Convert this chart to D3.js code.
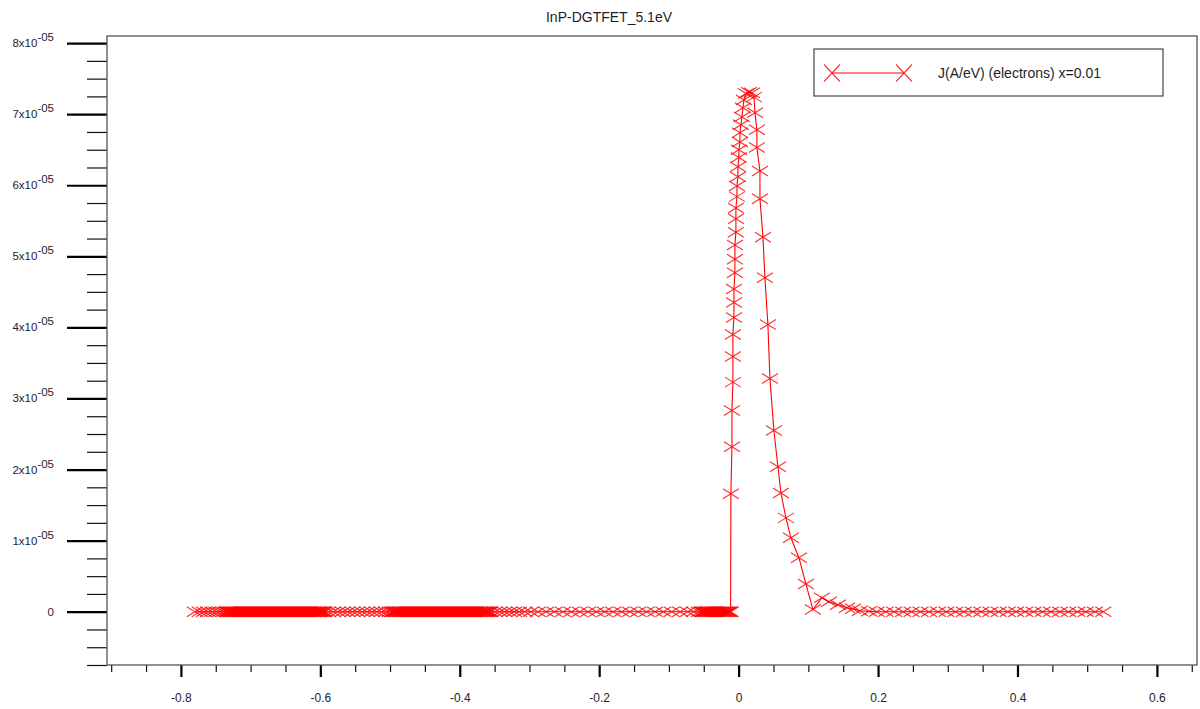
<!DOCTYPE html>
<html>
<head>
<meta charset="utf-8">
<script src="https://cdn.jsdelivr.net/npm/d3@7"></script>
<style>
  html, body { margin: 0; padding: 0; background: #fff; }
  svg { display: block; font-family: "Liberation Sans", Arial, sans-serif; }
</style>
</head>
<body>
<svg id="chart" width="1200" height="709"></svg>
<script>
// ---------------- DATA ----------------
const chartTitle = "InP-DGTFET_5.1eV";
const seriesName = "J(A/eV) (electrons) x=0.01";

// Energies (eV) left of the pulse where J = 0
const energyFlatLeft = [
  -0.780, -0.773, -0.767, -0.761, -0.755, -0.749, -0.744, -0.739,
  -0.7350, -0.7335, -0.7320, -0.7305, -0.7290, -0.7275, -0.7260, -0.7245, -0.7230, -0.7215,
  -0.7200, -0.7185, -0.7170, -0.7155, -0.7140, -0.7125, -0.7110, -0.7095, -0.7080, -0.7065,
  -0.7050, -0.7035, -0.7020, -0.7005, -0.6990, -0.6975, -0.6960, -0.6945, -0.6930, -0.6915,
  -0.6900, -0.6885, -0.6870, -0.6855, -0.6840, -0.6825, -0.6810, -0.6795, -0.6780, -0.6765,
  -0.6750, -0.6735, -0.6720, -0.6705, -0.6690, -0.6675, -0.6660, -0.6645, -0.6630, -0.6615,
  -0.6600, -0.6585, -0.6570, -0.6555, -0.6540, -0.6525, -0.6510, -0.6495, -0.6480, -0.6465,
  -0.6450, -0.6435, -0.6420, -0.6405, -0.6390, -0.6375, -0.6360, -0.6345, -0.6330, -0.6315,
  -0.6300, -0.6285, -0.6270, -0.6255, -0.6240, -0.6225, -0.6210, -0.6195, -0.6180, -0.6165,
  -0.6150, -0.6135, -0.6120, -0.6105, -0.6090, -0.6075, -0.6060, -0.6045, -0.6030, -0.6015,
  -0.6000, -0.5985, -0.5970, -0.5955, -0.5940,
  -0.589, -0.582, -0.575, -0.568, -0.561, -0.554, -0.547, -0.540, -0.533, -0.526,
  -0.519, -0.512, -0.506, -0.501,
  -0.4970, -0.4955, -0.4940, -0.4925, -0.4910, -0.4895, -0.4880, -0.4865, -0.4850, -0.4835,
  -0.4820, -0.4805, -0.4790, -0.4775, -0.4760, -0.4745, -0.4730, -0.4715, -0.4700, -0.4685,
  -0.4670, -0.4655, -0.4640, -0.4625, -0.4610, -0.4595, -0.4580, -0.4565, -0.4550, -0.4535,
  -0.4520, -0.4505, -0.4490, -0.4475, -0.4460, -0.4445, -0.4430, -0.4415, -0.4400, -0.4385,
  -0.4370, -0.4355, -0.4340, -0.4325, -0.4310, -0.4295, -0.4280, -0.4265, -0.4250, -0.4235,
  -0.4220, -0.4205, -0.4190, -0.4175, -0.4160, -0.4145, -0.4130, -0.4115, -0.4100, -0.4085,
  -0.4070, -0.4055, -0.4040, -0.4025, -0.4010, -0.3995, -0.3980, -0.3965, -0.3950, -0.3935,
  -0.3920, -0.3905, -0.3890, -0.3875, -0.3860, -0.3845, -0.3830, -0.3815, -0.3800, -0.3785,
  -0.3770, -0.3755, -0.3740, -0.3725, -0.3710, -0.3695, -0.3680, -0.3665, -0.3650, -0.3635,
  -0.3620, -0.3605, -0.3590, -0.3575, -0.3560,
  -0.350, -0.343, -0.336, -0.329, -0.322, -0.315, -0.307, -0.298, -0.288, -0.276,
  -0.264, -0.252, -0.240, -0.228, -0.216, -0.204, -0.192, -0.180, -0.168, -0.156,
  -0.144, -0.132, -0.120, -0.108, -0.096, -0.084, -0.073, -0.064, -0.057,
  -0.0530, -0.0515, -0.0500, -0.0485, -0.0470, -0.0455, -0.0440, -0.0425, -0.0410, -0.0395,
  -0.0380, -0.0365, -0.0350, -0.0335, -0.0320, -0.0305, -0.0290, -0.0275, -0.0260, -0.0245,
  -0.0230, -0.0215, -0.0200, -0.0185, -0.0170, -0.0155, -0.0140, -0.0125, -0.0115
];

// The pulse: energies (eV) and current density (A/eV)
const energyPulse = [
  -0.0111, -0.0096, -0.0096, -0.0082, -0.0082, -0.0082, -0.0067, -0.0067, -0.0067,
  -0.0053, -0.0053, -0.0053, -0.0039, -0.0039, -0.0039, -0.0024, -0.0024, -0.0010,
  -0.0010, 0.0004, 0.0004, 0.0019, 0.0019, 0.0033, 0.0047, 0.0062, 0.0076, 0.0105,
  0.0148, 0.0190, 0.0220, 0.0235, 0.0262, 0.0262, 0.0306, 0.0306, 0.0349, 0.0377,
  0.0420, 0.0449, 0.0506, 0.0564, 0.0607, 0.0679, 0.0750, 0.0865, 0.0965, 0.1066,
  0.1195, 0.1296, 0.1424, 0.1553, 0.1640, 0.1740, 0.1870
];
const currentPulse = [
  1.66e-5, 2.32e-5, 2.83e-5, 3.23e-5, 3.59e-5, 3.90e-5, 4.14e-5, 4.35e-5, 4.54e-5,
  4.77e-5, 4.96e-5, 5.16e-5, 5.34e-5, 5.53e-5, 5.68e-5, 5.84e-5, 5.99e-5, 6.12e-5,
  6.26e-5, 6.39e-5, 6.50e-5, 6.61e-5, 6.74e-5, 6.85e-5, 6.96e-5, 7.09e-5, 7.20e-5, 7.29e-5,
  7.31e-5, 7.30e-5, 7.24e-5, 7.02e-5, 6.78e-5, 6.53e-5, 6.20e-5, 5.81e-5, 5.27e-5, 4.70e-5,
  4.04e-5, 3.28e-5, 2.55e-5, 2.04e-5, 1.67e-5, 1.32e-5, 1.04e-5, 0.76e-5, 0.39e-5, 0.03e-5,
  0.197e-5, 0.141e-5, 0.098e-5, 0.056e-5, 0.040e-5, 0.014e-5, 0.005e-5
];

// Energies (eV) right of the pulse where J = 0
const energyFlatRight = [
  0.198, 0.211, 0.223, 0.236, 0.248, 0.261, 0.273, 0.286, 0.298, 0.311,
  0.323, 0.336, 0.348, 0.361, 0.373, 0.386, 0.398, 0.411, 0.423, 0.436,
  0.448, 0.461, 0.473, 0.486, 0.498, 0.511, 0.523
];

const xTickValues = [-0.8, -0.6, -0.4, -0.2, 0, 0.2, 0.4, 0.6];
const xTickLabels = ["-0.8", "-0.6", "-0.4", "-0.2", "0", "0.2", "0.4", "0.6"];
const yTickValues = [0, 1e-5, 2e-5, 3e-5, 4e-5, 5e-5, 6e-5, 7e-5, 8e-5];
const yTickMantissa = ["0", "1x10", "2x10", "3x10", "4x10", "5x10", "6x10", "7x10", "8x10"];
const yTickExponent = ["", "-05", "-05", "-05", "-05", "-05", "-05", "-05", "-05"];

// ---------------- BUILD ----------------
const data = []
  .concat(energyFlatLeft.map(e => ({ x: e, y: 0 })))
  .concat(energyPulse.map((e, i) => ({ x: e, y: currentPulse[i] })))
  .concat(energyFlatRight.map(e => ({ x: e, y: 0 })));

const svg = d3.select("#chart");
const plot = { left: 107, right: 1197, top: 36, bottom: 665 };

const x = d3.scaleLinear().domain([-0.906, 0.6575]).range([plot.left, plot.right]);
const y = d3.scaleLinear().domain([-0.75e-5, 8.1e-5]).range([plot.bottom, plot.top]);

const textColor = "#1e1e2a";
const red = "#ff0000";

// Title
svg.append("text")
  .attr("x", 609).attr("y", 22)
  .attr("text-anchor", "middle")
  .attr("font-size", 14)
  .attr("fill", textColor)
  .text(chartTitle);

// Y axis ticks (minor then major)
const yMinor = d3.range(-0.75e-5, 8.05e-5, 0.25e-5)
  .filter(v => Math.abs(Math.round(v / 1e-5) * 1e-5 - v) > 1e-8);
const yMinorAxis = d3.axisLeft(y).tickValues(yMinor).tickSize(20).tickFormat("");
const yMajorAxis = d3.axisLeft(y).tickValues(yTickValues).tickSize(40).tickFormat("");

const gyMinor = svg.append("g").attr("transform", `translate(${plot.left},0)`).call(yMinorAxis);
gyMinor.select(".domain").remove();
gyMinor.selectAll("line").attr("stroke", "#111").attr("stroke-width", 1.2);

const gyMajor = svg.append("g").attr("transform", `translate(${plot.left},0)`).call(yMajorAxis);
gyMajor.select(".domain").remove();
gyMajor.selectAll("line").attr("stroke", "#000").attr("stroke-width", 2.2);

// Y labels with superscript exponents
const yLab = svg.append("g");
yTickValues.forEach((v, i) => {
  const t = yLab.append("text")
    .attr("x", 54)
    .attr("y", y(v) + 4)
    .attr("text-anchor", "end")
    .attr("font-size", 11.5)
    .attr("fill", textColor);
  t.append("tspan").text(yTickMantissa[i]);
  if (yTickExponent[i]) {
    t.append("tspan").attr("dy", -6).attr("font-size", 11.5).text(yTickExponent[i]);
  }
});

// X axis ticks
const xMinor = d3.range(-0.9, 0.66, 0.05)
  .filter(v => Math.abs(Math.round(v / 0.2) * 0.2 - v) > 1e-6);
const xMinorAxis = d3.axisBottom(x).tickValues(xMinor).tickSize(7).tickFormat("");
const xMajorAxis = d3.axisBottom(x).tickValues(xTickValues).tickSize(12)
  .tickFormat((d, i) => xTickLabels[i]).tickPadding(16);

const gxMinor = svg.append("g").attr("transform", `translate(0,${plot.bottom})`).call(xMinorAxis);
gxMinor.select(".domain").remove();
gxMinor.selectAll("line").attr("stroke", "#111").attr("stroke-width", 1.2);

const gxMajor = svg.append("g").attr("transform", `translate(0,${plot.bottom})`).call(xMajorAxis);
gxMajor.select(".domain").remove();
gxMajor.selectAll("line").attr("stroke", "#000").attr("stroke-width", 2.2);
gxMajor.selectAll("text")
  .attr("font-family", "Liberation Sans, Arial, sans-serif")
  .attr("font-size", 12)
  .attr("fill", textColor);

// Plot frame
svg.append("rect")
  .attr("x", plot.left).attr("y", plot.top)
  .attr("width", plot.right - plot.left).attr("height", plot.bottom - plot.top)
  .attr("fill", "none").attr("stroke", "#555").attr("stroke-width", 1.3);

// Line
const line = d3.line().x(d => x(d.x)).y(d => y(d.y));
svg.append("path")
  .datum(data)
  .attr("d", line)
  .attr("fill", "none")
  .attr("stroke", red)
  .attr("stroke-width", 1.1);

// Markers (X shape)
const hw = 8, hh = 5;
svg.append("g").selectAll("path.mk")
  .data(data)
  .join("path")
  .attr("class", "mk")
  .attr("transform", d => `translate(${x(d.x)},${y(d.y)})`)
  .attr("d", `M${-hw},${-hh}L${hw},${hh}M${-hw},${hh}L${hw},${-hh}`)
  .attr("stroke", red)
  .attr("stroke-opacity", 0.8)
  .attr("stroke-width", 1.15)
  .attr("fill", "none");

// Legend
const lg = svg.append("g");
lg.append("rect")
  .attr("x", 814).attr("y", 49).attr("width", 349).attr("height", 47)
  .attr("fill", "#fff").attr("stroke", "#444").attr("stroke-width", 1.2);
lg.append("line")
  .attr("x1", 832).attr("x2", 904).attr("y1", 73).attr("y2", 73)
  .attr("stroke", red).attr("stroke-width", 1.1);
[832, 904].forEach(cx => {
  lg.append("path")
    .attr("transform", `translate(${cx},73)`)
    .attr("d", "M-8,-8.5L8,8.5M-8,8.5L8,-8.5")
    .attr("stroke", red).attr("stroke-opacity", 0.8).attr("stroke-width", 1.1).attr("fill", "none");
});
lg.append("text")
  .attr("x", 938).attr("y", 78)
  .attr("font-size", 14)
  .attr("fill", textColor)
  .text(seriesName);
</script>
</body>
</html>
